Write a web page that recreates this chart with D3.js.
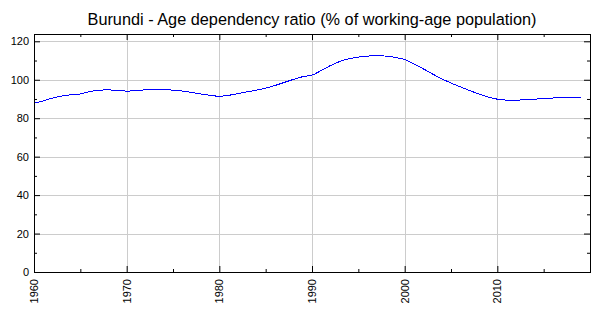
<!DOCTYPE html>
<html>
<head>
<meta charset="utf-8">
<script src="https://cdn.jsdelivr.net/npm/d3@7"></script>
<style>
  body { margin: 0; background: #fff; }
  text { font-family: "Liberation Sans", Arial, sans-serif; }
</style>
</head>
<body>
<div id="chart"></div>
<script>
(function() {

  var years = d3.range(1960, 2020);
  var ratio = [
    87.8, 89.0, 90.5, 91.5, 92.2, 92.6, 93.8, 94.6, 94.7, 94.5,
    94.1, 94.3, 94.8, 95.0, 94.9, 94.6, 94.1, 93.4, 92.6, 91.9,
    91.4, 91.9, 92.8, 93.7, 94.6, 95.6, 97.0, 98.6, 100.2, 101.6,
    102.4, 104.8, 107.4, 109.5, 110.9, 111.8, 112.3, 112.5, 112.3, 111.6,
    110.5, 108.3, 105.7, 103.0, 100.5, 98.3, 96.3, 94.4, 92.6, 91.0,
    89.9, 89.4, 89.4, 89.6, 89.9, 90.2, 90.5, 90.7, 90.8, 90.8
  ];
  var xTicks = [1960, 1970, 1980, 1990, 2000, 2010];
  var xMinor = [1965, 1975, 1985, 1995, 2005, 2015];
  var yTicks = [0, 20, 40, 60, 80, 100, 120];
  var yMinor = [10, 30, 50, 70, 90, 110];
  var title = "Burundi - Age dependency ratio (% of working-age population)";

  var left = 34, right = 590, top = 34, bottom = 272;

  var x = d3.scaleLinear().domain([1960, 2020]).range([left, right]);
  var y = d3.scaleLinear().domain([0, 123.8]).range([bottom, top]);

  var svg = d3.select("#chart").append("svg")
      .attr("width", 600)
      .attr("height", 315);

  svg.append("text")
      .attr("x", (left + right) / 2)
      .attr("y", 25)
      .attr("text-anchor", "middle")
      .style("font-size", "16.3px")
      .text(title);

  // grid
  svg.append("g").selectAll("line")
      .data(xTicks.slice(1))
    .enter().append("line")
      .attr("x1", function(d) { return Math.round(x(d)) + 0.5; })
      .attr("x2", function(d) { return Math.round(x(d)) + 0.5; })
      .attr("y1", top).attr("y2", bottom)
      .attr("stroke", "#cccccc");

  svg.append("g").selectAll("line")
      .data(yTicks.slice(1))
    .enter().append("line")
      .attr("y1", function(d) { return Math.round(y(d)) + 0.5; })
      .attr("y2", function(d) { return Math.round(y(d)) + 0.5; })
      .attr("x1", left).attr("x2", right)
      .attr("stroke", "#cccccc");

  // line
  var line = d3.line()
      .x(function(d, i) { return x(years[i]); })
      .y(function(d) { return y(d); })
      .curve(d3.curveMonotoneX);

  svg.append("path")
      .datum(ratio)
      .attr("d", line)
      .attr("fill", "none")
      .attr("stroke", "#0000ff")
      .attr("stroke-width", 1)
      .style("shape-rendering", "crispEdges");

  // axes with inward ticks
  function ax(axis, t, len) {
    return axis.tickValues(t).tickSize(len).tickFormat("");
  }

  var gB = svg.append("g").attr("transform", "translate(0," + bottom + ")");
  gB.call(ax(d3.axisBottom(x), xTicks, -6));
  gB.append("g").call(ax(d3.axisBottom(x), xMinor, -3));
  var gT = svg.append("g").attr("transform", "translate(0," + top + ")");
  gT.call(ax(d3.axisTop(x), xTicks, -6));
  gT.append("g").call(ax(d3.axisTop(x), xMinor, -3));
  var gL = svg.append("g").attr("transform", "translate(" + left + ",0)");
  gL.call(ax(d3.axisLeft(y), yTicks, -6));
  gL.append("g").call(ax(d3.axisLeft(y), yMinor, -3));
  var gR = svg.append("g").attr("transform", "translate(" + right + ",0)");
  gR.call(ax(d3.axisRight(y), yTicks, -6));
  gR.append("g").call(ax(d3.axisRight(y), yMinor, -3));

  svg.selectAll(".domain").remove();
  svg.selectAll(".tick line").attr("stroke", "#000");

  svg.append("rect")
      .attr("x", left + 0.5).attr("y", top + 0.5)
      .attr("width", right - left).attr("height", bottom - top)
      .attr("fill", "none")
      .attr("stroke", "#000");

  // labels
  svg.append("g").selectAll("text")
      .data(yTicks)
    .enter().append("text")
      .attr("x", left - 5)
      .attr("y", function(d) { return y(d) + 4; })
      .attr("text-anchor", "end")
      .style("font-size", "11px")
      .text(function(d) { return d; });

  svg.append("g").selectAll("text")
      .data(xTicks)
    .enter().append("text")
      .attr("transform", function(d) {
        return "translate(" + (x(d) + 4) + "," + (bottom + 7) + ") rotate(-90)";
      })
      .attr("text-anchor", "end")
      .style("font-size", "11px")
      .text(function(d) { return d; });

})();
</script>
</body>
</html>
